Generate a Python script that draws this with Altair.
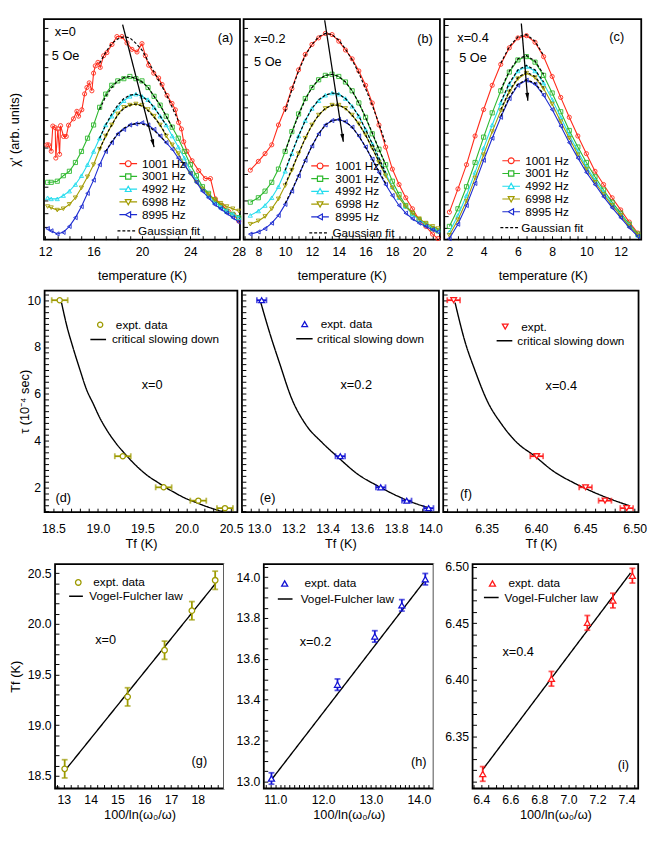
import altair as alt
import pandas as pd

FONT = "Liberation Sans"
ONE = pd.DataFrame({"k": [0]})

# -----------------------------------------------------------------------------
# TOP ROW: chi'(T) curves, arbitrary units (0 = bottom of frame, 100 = top)
# -----------------------------------------------------------------------------
FREQS = ["1001 Hz", "3001 Hz", "4992 Hz", "6998 Hz", "8995 Hz"]
FREQ_COLORS = ["#ff2a1a", "#2db82d", "#22dced", "#a29b00", "#1c2bd0"]
FREQ_SHAPES = ["circle", "square", "triangle-up", "triangle-down", "triangle-left"]
# legend keys: the marker with a short line through it
FREQ_KEYS = [
    "M-3,0H-1M1,0H3M1,0A1,1,0,1,1,-1,0A1,1,0,1,1,1,0",
    "M-3,0H-0.9M0.9,0H3M-0.9,-0.9H0.9V0.9H-0.9Z",
    "M-3,0H-0.55M0.55,0H3M0,-1L1,0.8H-1Z",
    "M-3,0H-0.55M0.55,0H3M0,1L1,-0.8H-1Z",
    "M-3,0H-1M0.8,0H3M-1,0L0.8,-1V1Z",
]
ARROW_HEAD = "M0,0L0.5,2L-0.5,2Z"

# (a) x=0
T_A_1001 = [12.14, 12.28, 12.50, 12.63, 12.83, 12.88, 13.05, 13.19, 13.27, 13.52,
            13.74, 13.93, 14.34, 14.62, 14.76, 15.03, 15.26, 15.45, 15.64, 15.86,
            16.0, 16.14, 16.36, 16.55, 16.83, 17.10, 17.52, 17.93, 18.34, 18.76,
            19.17, 19.59, 20.0, 20.28, 20.55, 20.97, 21.38, 21.66, 22.07, 22.48,
            22.76, 23.03, 23.26, 23.45, 23.72, 24.14, 24.69, 25.24, 25.66, 26.07,
            26.62, 27.17, 27.59, 28.0]
CHI_A_1001 = [43.0, 43.0, 40.1, 51.5, 50.8, 37.0, 50.2, 38.7, 51.7, 46.8,
              46.8, 51.9, 54.8, 58.2, 56.0, 58.9, 66.1, 69.0, 71.1, 67.5,
              75.5, 78.8, 80.4, 78.1, 83.4, 84.8, 88.5, 92.1, 92.1, 89.2,
              86.3, 85.1, 88.9, 83.4, 79.1, 75.5, 73.3, 70.4, 65.4, 61.8,
              58.9, 53.1, 50.2, 44.4, 40.1, 35.8, 31.3, 27.7, 27.7, 18.5,
              15.6, 12.7, 11.3, 8.4]
T_A = [12.2, 12.5, 13.0, 13.5, 14.0, 14.5, 15.0, 15.5, 16.0, 16.5, 17.0, 17.5,
       18.0, 18.5, 19.0, 19.5, 20.0, 20.5, 21.0, 21.5, 22.0, 22.5, 23.0, 23.5,
       24.0, 24.5, 25.0, 25.5, 26.0, 26.5, 27.0, 27.5, 28.0]
CHI_A_3001 = [26, 26, 26.5, 29, 31, 35, 40, 46, 52, 60, 66, 70, 72, 73, 74, 73, 72,
              69, 65, 61, 56, 51, 46, 40, 34, 29, 24, 21, 18, 15.5, 13, 11.5, 10]
CHI_A_4992 = [19, 18.5, 18.5, 20, 22, 25, 29, 34, 40, 46, 52, 56, 60, 63, 65, 66, 65,
              63.5, 60, 56, 52, 47, 42, 37, 31, 27, 23, 20, 17, 15, 13, 11.5, 10]
CHI_A_6998 = [15, 14.5, 13.4, 14, 16, 19, 23.5, 28.5, 34, 41, 47, 52, 57, 60, 61, 61.5,
              61, 59, 56, 52, 47, 43, 39, 34, 30, 26, 23, 20.5, 18, 16.5, 15, 14, 13]
CHI_A_8995 = [5, 4, 2.6, 3.3, 6, 10, 15, 21, 27, 34, 40, 44, 48, 50, 52, 52.5, 53, 52,
              50, 47, 44, 41, 37, 34, 30, 26, 22, 19, 16, 14, 12, 10, 8]
FIT_A_T = [16.5, 17.0, 17.5, 18.0, 18.5, 19.0, 19.5, 20.0, 20.5, 21.0, 21.5, 22.0, 22.5, 23.0]
FIT_A_1001 = [80, 85, 89, 91, 92, 91.5, 89, 86, 81, 76, 71, 66, 60, 54]
FIT_A_3001 = [59, 65, 69, 72, 73.5, 74, 73, 71.5, 69, 65, 61, 56, 51]
FIT_A_4992 = [46, 52, 57, 61, 64, 65.5, 66, 65, 63, 60, 56, 52]
FIT_A_6998 = [41, 47, 52, 56.5, 59.5, 61, 61.5, 60.5, 58.5, 55.5, 52, 47.5]
FIT_A_8995_T = [17.0, 17.5, 18.0, 18.5, 19.0, 19.5, 20.0, 20.5, 21.0, 21.5, 22.0]
FIT_A_8995 = [40, 44.5, 48, 50.5, 52, 52.7, 52.5, 51.5, 49.5, 47, 44]
ARROW_A_T = [18.4, 21.0]
ARROW_A_CHI = [97.5, 42]

# (b) x=0.2
T_B = [7.4, 8.0, 8.5, 9.0, 9.5, 10.0, 10.5, 11.0, 11.5, 12.0, 12.5, 13.0, 13.5, 14.0,
       14.5, 15.0, 15.5, 16.0, 16.5, 17.0, 17.5, 18.0, 18.5, 19.0, 19.5, 20.0, 20.5,
       21.0, 21.4]
CHI_B_1001 = [31.5, 35.5, 39, 43, 52, 59.5, 68.5, 77, 84, 88.5, 91.5, 93.5, 93, 90, 86,
              82, 76.5, 70, 62, 52, 42, 32, 25, 19, 14, 9, 6, 2.5, 0.5]
CHI_B_3001 = [17, 19, 22, 26, 32, 40, 49, 57, 64, 69, 72.5, 74.5, 75, 74, 71.5, 67.5,
              62, 55.5, 48, 41, 34, 26.5, 20.5, 15.5, 12, 9, 7, 5, 4]
CHI_B_4992 = [11, 13, 15.5, 19, 24, 31, 39, 47, 54, 59.5, 63, 65.5, 66.5, 66, 64, 60.5,
              56, 50, 43.5, 36.5, 30, 24, 19, 15, 11.5, 9, 7, 5.5, 4.5]
CHI_B_6998 = [7, 8.5, 10.5, 14, 18.5, 24.5, 31.5, 39, 46, 52, 56.5, 59.5, 61, 61, 59.5,
              56.5, 52.5, 47.5, 41.5, 35, 29, 23.5, 19, 15, 12, 9.5, 7.5, 6, 5]
CHI_B_8995 = [2.5, 3.5, 5, 7.5, 11, 16, 22, 29, 36, 42.5, 48, 52, 54, 54.5, 53.5, 51,
              47, 42, 36.5, 30.5, 25, 20, 15.5, 12, 9.5, 7.5, 6, 4.5, 3.5]
FIT_B_T = [10.0, 10.5, 11.0, 11.5, 12.0, 12.5, 13.0, 13.5, 14.0, 14.5, 15.0, 15.5,
           16.0, 16.5, 17.0, 17.5]
FIT_B_1001 = [58, 68, 76.5, 83.5, 88.5, 92, 93.5, 93, 90.5, 86.5, 81.5, 75.5, 68.5, 61, 52.5, 43.5]
FIT_B_3001 = [40, 48.5, 56.5, 63.5, 69, 72.5, 74.5, 75, 74, 71.5, 67.5, 62, 55.5, 48.5, 41, 34]
FIT_B_4992 = [31.5, 39.5, 47, 54, 59.5, 63.5, 65.5, 66.5, 66, 64, 60.5, 56, 50, 43.5, 37, 30.5]
FIT_B_6998 = [25, 32, 39, 46, 52, 56.5, 59.5, 61, 61, 59.5, 56.5, 52.5, 47.5, 41.5, 35.5, 29.5]
FIT_B_8995 = [16.5, 22.5, 29, 36, 42.5, 48, 52, 54, 54.5, 53.5, 51, 47, 42, 36.5, 31, 25.5]
ARROW_B_T = [12.95, 14.34]
ARROW_B_CHI = [99.5, 44.4]

# (c) x=0.4
T_C = [2.0, 2.5, 3.0, 3.5, 4.0, 4.5, 5.0, 5.5, 6.0, 6.5, 7.0, 7.5, 8.0, 8.5, 9.0, 9.5,
       10.0, 10.5, 11.0, 11.5, 12.0, 12.5, 13.0]
CHI_C_1001 = [12.5, 23, 34, 47, 59, 70, 79.5, 87, 91.5, 92.5, 89.5, 83, 74, 64.5, 55.5,
              47, 39, 31, 25, 19, 13.5, 8, 3]
CHI_C_3001 = [6, 14, 24, 35, 46.5, 57.5, 67.5, 76, 81.5, 83, 80.5, 74.5, 66.5, 58, 49.5,
              42, 35, 28.5, 22.5, 17, 12, 7, 2.5]
CHI_C_4992 = [3.5, 11, 20, 30.5, 41.5, 52, 62, 70.5, 76.5, 78.5, 76.5, 71, 63.5, 55.5,
              47.5, 40, 33, 27, 21.5, 16, 11.5, 6.5, 2]
CHI_C_6998 = [2, 9, 17.5, 28, 38.5, 49, 58.5, 67, 73, 75.5, 73.5, 68.5, 61.5, 53.5, 46,
              38.5, 32, 26, 20.5, 15.5, 11, 6, 2]
CHI_C_8995 = [0.5, 7, 15.5, 25.5, 36, 46, 55.5, 64, 70, 72.3, 70.5, 65.5, 59, 51.5, 44,
              37, 30.5, 25, 19.5, 14.5, 10, 5.5, 1.5]
FIT_C_T = [5.0, 5.5, 6.0, 6.5, 7.0, 7.5]
FIT_C_1001 = [80, 87.5, 92, 93, 90, 83.5]
FIT_C_3001 = [68, 76.5, 82, 83.5, 81, 75]
FIT_C_4992 = [62.5, 71, 77, 79, 77, 71.5]
FIT_C_6998 = [59, 67.5, 73.5, 76, 74, 69]
FIT_C_8995 = [56, 64.5, 70.5, 72.5, 71, 66]
ARROW_C_T = [6.2, 6.58]
ARROW_C_CHI = [98, 63]

# -----------------------------------------------------------------------------
# MIDDLE + BOTTOM ROWS: freezing temperatures
# -----------------------------------------------------------------------------
TAU = [10.0, 3.33, 2.0, 1.43, 1.11]             # 10^-4 sec, one per frequency
TF_X0 = [18.57, 19.28, 19.74, 20.13, 20.43]
TF_X02 = [13.015, 13.474, 13.71, 13.862, 13.99]
TF_X04 = [6.3166, 6.4008, 6.4503, 6.4700, 6.492]
TF_ERR = [0.09, 0.028, 0.0065]

CSD_X0_T = [18.59, 18.65, 18.72, 18.8, 18.87, 18.95, 19.02, 19.1, 19.2, 19.3, 19.39,
            19.48, 19.57, 19.67, 19.76, 19.87, 19.98, 20.1, 20.2, 20.3, 20.41]
CSD_X0_TAU = [9.9, 8.9, 7.97, 7.0, 6.2, 5.55, 4.98, 4.45, 3.9, 3.45, 3.08, 2.75, 2.47,
              2.22, 2.0, 1.76, 1.54, 1.36, 1.21, 1.08, 0.96]
CSD_X02_T = [13.01, 13.06, 13.12, 13.19, 13.27, 13.37, 13.46, 13.58, 13.69, 13.81, 13.92, 14.0]
CSD_X02_TAU = [9.9, 8.65, 7.3, 5.8, 4.71, 3.9, 3.29, 2.54, 2.07, 1.62, 1.29, 1.11]
CSD_X04_T = [6.318, 6.328, 6.338, 6.351, 6.365, 6.381, 6.398, 6.418, 6.438, 6.458, 6.478, 6.495]
CSD_X04_TAU = [9.9, 8.24, 7.02, 5.66, 4.71, 3.9, 3.36, 2.68, 2.2, 1.8, 1.46, 1.21]

VF_X0 = [13.03, 15.38, 16.76, 17.78, 18.65]
VF_X02 = [10.92, 12.30, 13.08, 13.645, 14.135]
VF_X04 = [6.41, 6.883, 7.13, 7.306, 7.44]
VF_FIT_X0 = ([13.05, 18.67], [18.556, 20.40])
VF_FIT_X02 = ([10.93, 14.12], [13.012, 13.981])
VF_FIT_X04 = ([6.411, 7.427], [6.3206, 6.4944])

OLIVE, BLUE, RED = "#9d9a00", "#1212d4", "#ff1a1a"

# frame heights of the three rows
H_TOP, H_MID, H_BOT = 225, 226, 229


# -----------------------------------------------------------------------------
# HELPERS
# -----------------------------------------------------------------------------
def steps(start, step, n, nd=3):
    return [round(start + step * k, nd) for k in range(n)]


def inner_axis(values, step=None, fmt=None, title=None, label_pad=4, title_pad=4, flush=False):
    """Ticks drawn inside the frame (axis shifted inwards by the tick length)."""
    opts = dict(values=values, title=title, tickSize=4, offset=-4, domain=False,
                grid=False, tickColor="black", tickWidth=1, labelPadding=label_pad,
                labelOverlap=False, labelFlush=flush, labelFont=FONT, labelFontSize=12.5,
                labelColor="black", titleFont=FONT, titleFontSize=13,
                titleFontWeight="normal", titleColor="black", titlePadding=title_pad,
                minExtent=0, maxExtent=300)
    if flush:
        opts["labelFlushOffset"] = 3
    if step is None:
        opts["labels"] = False
    else:
        opts["format"] = fmt
        opts["labelExpr"] = (f"abs(datum.value / {step} - round(datum.value / {step}))"
                             f" < 0.001 ? datum.label : ''")
    return alt.Axis(**opts)


def key(cx, cy, lab_x, sym_w, row_h=None, size=None, sw=1.3):
    """Legend placed inside the frame: symbol centred at cx, label starting at lab_x."""
    row_h = row_h if row_h is not None else max(sym_w, 13)
    return alt.Legend(orient="none", legendX=cx - sym_w / 2, legendY=cy - row_h / 2,
                      title=None, padding=0, labelFont=FONT, labelFontSize=12,
                      labelColor="black", labelOffset=lab_x - cx - sym_w / 2,
                      rowPadding=1, symbolSize=size if size else sym_w ** 2,
                      symbolStrokeWidth=sw)


class Frame:
    """Shared scales and axes of one panel, so that every layer agrees on them."""

    def __init__(self, x_dom, y_dom, x_axis, y_axis):
        self.xs = alt.Scale(domain=x_dom, nice=False, zero=False)
        self.ys = alt.Scale(domain=y_dom, nice=False, zero=False)
        self.x_axis, self.y_axis = x_axis, y_axis

    def X(self, f):
        return alt.X(f"{f}:Q", scale=self.xs, axis=self.x_axis)

    def Y(self, f):
        return alt.Y(f"{f}:Q", scale=self.ys, axis=self.y_axis)

    def note(self, x, y, text, align="center"):
        return alt.Chart(ONE).mark_text(text=text, align=align, baseline="middle", font=FONT,
                                        fontSize=13, color="black").encode(
            x=alt.XDatum(x, scale=self.xs, axis=self.x_axis),
            y=alt.YDatum(y, scale=self.ys, axis=self.y_axis))


def chi_panel(curves, fits, arrow, angle, notes, x_dom, x_ticks, x_step, y_ticks,
              y_title, y_title_pad, key_at, fit_key_at, width):
    fr = Frame(x_dom, [0, 100],
               inner_axis(x_ticks, x_step, ".0f", "temperature (K)", 6, 12),
               inner_axis(y_ticks, title=y_title, title_pad=y_title_pad))
    layers = []
    for i, (T, chi) in enumerate(curves):
        base = alt.Chart(pd.DataFrame({"T": T, "chi": chi})).encode(x=fr.X("T"), y=fr.Y("chi"))
        layers.append(base.mark_line(color=FREQ_COLORS[i], strokeWidth=1.1))
        layers.append(base.mark_point(shape=FREQ_SHAPES[i], filled=False, color=FREQ_COLORS[i],
                                      size=18, strokeWidth=0.9, opacity=1))
    fit_df = pd.concat([pd.DataFrame({"T": T, "chi": v, "freq": f, "fit": "Gaussian fit"})
                        for f, (T, v) in zip(FREQS, fits)])
    layers.append(alt.Chart(fit_df).mark_line(color="black", strokeWidth=1.2).encode(
        x=fr.X("T"), y=fr.Y("chi"), detail="freq:N",
        strokeDash=alt.StrokeDash("fit:N", scale=alt.Scale(domain=["Gaussian fit"], range=[[3, 2]]),
                                  legend=key(*fit_key_at, 18, sw=1.3))))
    freq_key = key(*key_at, 6, row_h=13, size=36, sw=1.2)
    layers.append(alt.Chart(pd.DataFrame({"freq": FREQS})).transform_filter("false")
                  .mark_point(filled=False, opacity=1).encode(
        color=alt.Color("freq:N", scale=alt.Scale(domain=FREQS, range=FREQ_COLORS), legend=freq_key),
        shape=alt.Shape("freq:N", scale=alt.Scale(domain=FREQS, range=FREQ_KEYS), legend=freq_key)))
    adf = pd.DataFrame({"T": arrow[0], "chi": arrow[1]})
    layers.append(alt.Chart(adf).mark_line(color="black", strokeWidth=1.3).encode(
        x=fr.X("T"), y=fr.Y("chi")))
    layers.append(alt.Chart(adf.tail(1)).mark_point(shape=ARROW_HEAD, filled=True, color="black",
                                                    size=64, angle=angle, opacity=1).encode(
        x=fr.X("T"), y=fr.Y("chi")))
    for x, y, text, align in notes:
        layers.append(fr.note(x, y, text, align))
    return alt.layer(*layers).properties(width=width, height=H_TOP)


def tf_panel(fr, df, xcol, ycol, err, horizontal, color, shape, size, label, fit, fit_label,
             notes, key_at, line_key_at, width, height):
    df = df.copy()
    df["lab"] = label
    src = xcol if horizontal else ycol
    df["lo"] = df[src] - err
    df["hi"] = df[src] + err
    fit_df = pd.DataFrame({xcol: fit[0], ycol: fit[1], "fit": fit_label})
    layers = [alt.Chart(fit_df).mark_line(color="black", strokeWidth=1.4, interpolate="monotone").encode(
        x=fr.X(xcol), y=fr.Y(ycol),
        strokeDash=alt.StrokeDash("fit:N", scale=alt.Scale(domain=[fit_label], range=[[1, 0]]),
                                  legend=key(*line_key_at, sw=1.6)))]
    if horizontal:
        layers.append(alt.Chart(df).mark_rule(color=color, strokeWidth=1.8).encode(
            x=fr.X("lo"), x2="hi:Q", y=fr.Y(ycol)))
        for end in ("lo", "hi"):
            layers.append(alt.Chart(df).mark_tick(color=color, orient="vertical", size=6,
                                                  thickness=1.8).encode(x=fr.X(end), y=fr.Y(ycol)))
    else:
        layers.append(alt.Chart(df).mark_rule(color=color, strokeWidth=1.8).encode(
            x=fr.X(xcol), y=fr.Y("lo"), y2="hi:Q"))
        for end in ("lo", "hi"):
            layers.append(alt.Chart(df).mark_tick(color=color, orient="horizontal", size=6,
                                                  thickness=1.8).encode(x=fr.X(xcol), y=fr.Y(end)))
    layers.append(alt.Chart(df).mark_point(shape=shape, filled=True, color="white", size=size,
                                           opacity=1).encode(x=fr.X(xcol), y=fr.Y(ycol)))
    pkey = key(*key_at, 6, row_h=13, size=size, sw=1.3)
    layers.append(alt.Chart(df).mark_point(filled=False, size=size, strokeWidth=1.3, opacity=1).encode(
        x=fr.X(xcol), y=fr.Y(ycol),
        color=alt.Color("lab:N", scale=alt.Scale(domain=[label], range=[color]), legend=pkey),
        shape=alt.Shape("lab:N", scale=alt.Scale(domain=[label], range=[shape]), legend=pkey)))
    for x, y, text in notes:
        layers.append(fr.note(x, y, text))
    return alt.layer(*layers).properties(width=width, height=height)


# -----------------------------------------------------------------------------
# TOP ROW
# -----------------------------------------------------------------------------
TOP_Y = [6 * k for k in range(1, 17)]
panel_a = chi_panel(
    [(T_A_1001, CHI_A_1001), (T_A, CHI_A_3001), (T_A, CHI_A_4992), (T_A, CHI_A_6998), (T_A, CHI_A_8995)],
    [(FIT_A_T, FIT_A_1001), (FIT_A_T[:13], FIT_A_3001), (FIT_A_T[:12], FIT_A_4992),
     (FIT_A_T[:12], FIT_A_6998), (FIT_A_8995_T, FIT_A_8995)],
    (ARROW_A_T, ARROW_A_CHI), 166,
    [(12.8, 94.2, "x=0", "left"), (12.55, 83.4, "5 Oe", "left"), (26.9, 91.3, "(a)", "center")],
    [11.9, 28.1], steps(12, 1, 17), 4, TOP_Y, "χ' (arb. units)", 22,
    (83, 148, 94), (83, 215, 94), 200)
panel_b = chi_panel(
    [(T_B, CHI_B_1001), (T_B, CHI_B_3001), (T_B, CHI_B_4992), (T_B, CHI_B_6998), (T_B, CHI_B_8995)],
    [(FIT_B_T, FIT_B_1001), (FIT_B_T, FIT_B_3001), (FIT_B_T, FIT_B_4992),
     (FIT_B_T, FIT_B_6998), (FIT_B_T, FIT_B_8995)],
    (ARROW_B_T, ARROW_B_CHI), 171.6,
    [(7.68, 90.9, "x=0.2", "left"), (7.68, 80.5, "5 Oe", "left"), (20.44, 90.9, "(b)", "center")],
    [6.9, 21.55], steps(7, 0.5, 30), 2, TOP_Y, None, 4,
    (75, 150.3, 87.6), (75, 217, 88.6), 200.3)
panel_c = chi_panel(
    [(T_C, CHI_C_1001), (T_C, CHI_C_3001), (T_C, CHI_C_4992), (T_C, CHI_C_6998), (T_C, CHI_C_8995)],
    [(FIT_C_T, FIT_C_1001), (FIT_C_T, FIT_C_3001), (FIT_C_T, FIT_C_4992),
     (FIT_C_T, FIT_C_6998), (FIT_C_T, FIT_C_8995)],
    (ARROW_C_T, ARROW_C_CHI), 175.3,
    [(2.46, 91.3, "x=0.4", "left"), (2.57, 82.3, "5 Oe", "left"), (11.77, 92, "(c)", "center")],
    [1.7, 13.2], steps(2, 0.5, 23), 2, steps(5.4, 5.4, 18), None, 4,
    (65.3, 145, 76.6), (65.3, 211.7, 76.6), 201)

# -----------------------------------------------------------------------------
# MIDDLE ROW: tau vs Tf
# -----------------------------------------------------------------------------
TAU_DOM = [0.94, 10.41]
TAU_TICKS = steps(1, 0.25, 38)


def tau_panel(Tf, err, color, shape, size, label, fit, notes, x_dom, x_ticks, x_step, x_fmt,
              y_title, key_at, line_key_at, width, flush=False):
    x_axis = inner_axis(x_ticks, x_step, x_fmt, "Tf (K)", 11, 3, flush)
    if y_title:
        y_axis = inner_axis(TAU_TICKS, 2, ".0f", y_title, 4, -4)
    else:
        y_axis = inner_axis(TAU_TICKS)
    fr = Frame(x_dom, TAU_DOM, x_axis, y_axis)
    df = pd.DataFrame({"Tf": Tf, "tau": TAU})
    return tf_panel(fr, df, "Tf", "tau", err, True, color, shape, size, label, fit,
                    "critical slowing down", notes, key_at, line_key_at, width, H_MID)


panel_d = tau_panel(TF_X0, TF_ERR[0], OLIVE, "circle", 28, "expt. data", (CSD_X0_T, CSD_X0_TAU),
                    [(19.61, 6.37, "x=0"), (18.61, 1.53, "(d)")], [18.4, 20.57], steps(18.4, 0.1, 22),
                    0.5, ".1f", "τ (10⁻⁴ sec)", (53.7, 35.3, 66.7), (53.7, 48.9, 66.7, 16), 196.7)
panel_e = tau_panel(TF_X02, TF_ERR[1], BLUE, "triangle-up", 34, "expt. data", (CSD_X02_T, CSD_X02_TAU),
                    [(13.567, 6.37, "x=0.2"), (13.05, 1.53, "(e)")], [12.9, 14.05], steps(12.9, 0.05, 23),
                    0.2, ".1f", None, (61, 34.6, 74.3), (62.6, 47.9, 74.3, 16.7), 201)
panel_f = tau_panel(TF_X04, TF_ERR[2], RED, "triangle-down", 34, "expt.", (CSD_X04_T, CSD_X04_TAU),
                    [(6.4257, 6.33, "x=0.4"), (6.329, 1.69, "(f)")], [6.306, 6.504], steps(6.31, 0.01, 20),
                    0.05, ".2f", None, (60.3, 37.2, 73.6), (61.5, 50.1, 73.6, 16), 199.3, flush=True)

# -----------------------------------------------------------------------------
# BOTTOM ROW: Tf vs 100/ln(w0/w)
# -----------------------------------------------------------------------------
VF_TITLE = "100/ln(ω₀/ω)"


def vf_panel(x, Tf, err, color, shape, size, fit, notes, x_dom, y_dom, x_ticks, x_step, x_fmt,
             y_ticks, y_step, y_fmt, y_title, y_title_pad, key_at, line_key_at, width):
    fr = Frame(x_dom, y_dom, inner_axis(x_ticks, x_step, x_fmt, VF_TITLE, 5, 3),
               inner_axis(y_ticks, y_step, y_fmt, y_title, 4, y_title_pad))
    df = pd.DataFrame({"w": x, "Tf": Tf})
    return tf_panel(fr, df, "w", "Tf", err, False, color, shape, size, "expt. data", fit,
                    "Vogel-Fulcher law", notes, key_at, line_key_at, width, H_BOT)


panel_g = vf_panel(VF_X0, TF_X0, TF_ERR[0], OLIVE, "circle", 32, VF_FIT_X0,
                   [(14.56, 19.84, "x=0"), (18.06, 18.65, "(g)")], [12.67, 18.98], [18.376, 20.59],
                   steps(12.75, 0.25, 25), 1, ".0f", steps(18.4, 0.1, 22), 0.5, ".1f", "Tf (K)", 4.5,
                   (20.7, 19.3, 33), (20.4, 31.9, 33, 14), 172.4)
panel_h = vf_panel(VF_X02, TF_X02, TF_ERR[1], BLUE, "triangle-up", 38, VF_FIT_X02,
                   [(11.84, 13.684, "x=0.2"), (14.0, 13.094, "(h)")], [10.76, 14.31], [12.966, 14.064],
                   steps(10.8, 0.1, 36), 1, ".1f", steps(13.0, 0.05, 22), 0.2, ".1f", None, 4,
                   (18.3, 20.3, 35.6), (20.8, 34.7, 35.6, 15), 173.3)
panel_i = vf_panel(VF_X04, TF_X04, TF_ERR[2], RED, "triangle-up", 38, VF_FIT_X04,
                   [(6.654, 6.4243, "x=0.4"), (7.378, 6.3248, "(i)")], [6.34, 7.48], [6.3037, 6.5023],
                   steps(6.35, 0.05, 23), 0.2, ".1f", steps(6.31, 0.01, 20), 0.05, ".2f", None, 4,
                   (17.3, 20.3, 30.6), (18.1, 33.2, 30.6, 15), 169)


def spacer(w, h):
    """Blank cell; a row starts with one so that every row is aligned on it."""
    return alt.Chart(ONE).mark_point(opacity=0).encode(
        x=alt.X("k:Q", axis=None), y=alt.Y("k:Q", axis=None)
    ).properties(width=w, height=h, view=alt.ViewBackground(stroke="white", fill="white"))


INDEP = dict(color="independent", shape="independent", strokeDash="independent")
row1 = alt.hconcat(spacer(31.3, H_TOP), panel_a, panel_b, panel_c,
                   spacing=3.7, bounds="flush").resolve_scale(**INDEP)
row2 = alt.hconcat(spacer(31.95, H_MID), panel_d, panel_e, panel_f,
                   spacing=4.35, bounds="flush").resolve_scale(**INDEP)
row3 = alt.hconcat(spacer(46.3, H_BOT), panel_g, spacer(40, H_BOT), panel_h, spacer(38.7, H_BOT),
                   panel_i, spacing=0, bounds="flush").resolve_scale(**INDEP)

upper = alt.vconcat(row1, row2, spacing=3).resolve_scale(**INDEP)
chart = alt.vconcat(upper, row3, spacing=7).resolve_scale(
    **INDEP
).properties(padding=0, background="white").configure_view(stroke="black", strokeWidth=1.8)

chart.save("out.html", embed_options={"renderer": "svg", "actions": False})
